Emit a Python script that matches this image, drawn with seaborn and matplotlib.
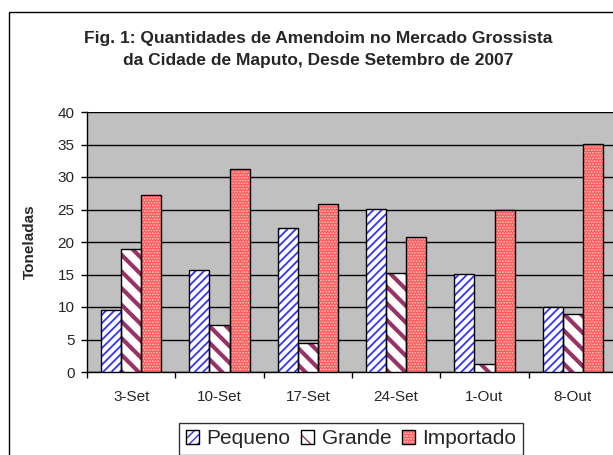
import pandas as pd
import matplotlib
matplotlib.use("Agg")
import matplotlib.pyplot as plt
import seaborn as sns
from matplotlib.patches import Patch, Rectangle
from matplotlib.legend_handler import HandlerTuple

# data
semanas = ["3-Set", "10-Set", "17-Set", "24-Set", "1-Out", "8-Out"]
pequeno = [9.6, 15.7, 22.2, 25.1, 15.1, 10.0]
grande = [18.9, 7.3, 4.4, 15.2, 1.2, 9.0]
importado = [27.2, 31.2, 25.8, 20.7, 25.0, 35.1]
tipos = ["Pequeno", "Grande", "Importado"]

df = pd.DataFrame({"semana": semanas, "Pequeno": pequeno,
                   "Grande": grande, "Importado": importado})
long_df = df.melt(id_vars="semana", var_name="tipo", value_name="toneladas")

sns.set_style("white")
plt.rcParams["font.family"] = ["Liberation Sans", "DejaVu Sans"]

# face colour, hatch pattern, hatch colour, hatch width for each series
estilos = {
    "Pequeno": ("white", "////", "#3333FF", 1.3),
    "Grande": ("white", "\\\\", "#993366", 3.0),
    "Importado": ("#FF5A5A", "......", "#FFC8C8", 0.8),
}

fig = plt.figure(figsize=(6.13, 4.55), dpi=100)
ax = fig.add_axes([87 / 613, 83 / 455, 530 / 613, 260 / 455])
ax.set_facecolor("#C0C0C0")

sns.barplot(data=long_df, x="semana", y="toneladas", hue="tipo",
            hue_order=tipos, order=semanas, width=0.68, gap=0,
            palette=["white"] * 3, legend=False, ax=ax, zorder=3)


def pinta(p, tipo):
    fc, hatch, hc, hw = estilos[tipo]
    p.set_facecolor(fc)
    p.set_hatch(hatch)
    p.set_edgecolor(hc)
    p.set_linewidth(0)
    try:
        p.set_hatch_linewidth(hw)
    except AttributeError:
        pass


for tipo, cont in zip(tipos, ax.containers):
    for p in cont:
        pinta(p, tipo)
        # black outline on top of the hatched bar
        ax.add_patch(Rectangle(p.get_xy(), p.get_width(), p.get_height(),
                               fill=False, ec="black", lw=1, zorder=4))

ax.set_ylim(0, 40)
ax.set_xlim(-0.5, 5.5)
ax.set_yticks(range(0, 41, 5))
ax.yaxis.grid(True, color="black", lw=1)
ax.set_axisbelow(True)
ax.set_xticks([i - 0.5 for i in range(7)], minor=True)
ax.tick_params(axis="x", which="major", length=0, pad=13, labelsize=11)
ax.tick_params(axis="x", which="minor", length=4, color="black", width=1,
               direction="out", bottom=True)
ax.tick_params(axis="y", length=4, color="black", width=1, direction="out",
               left=True, pad=5, labelsize=11)
for s in ["top", "right"]:
    ax.spines[s].set_visible(False)
for s in ["left", "bottom"]:
    ax.spines[s].set_color("black")
    ax.spines[s].set_linewidth(1)

ax.set_xlabel("")
ax.set_ylabel("Toneladas", fontsize=11, fontweight="bold")
ax.yaxis.set_label_coords((37 - 87) / 530, 0.5)

fig.text(318 / 613, 1 - 39 / 455, "Fig. 1: Quantidades de Amendoim no Mercado Grossista",
         ha="center", va="center", fontsize=12.5, fontweight="bold")
fig.text(318 / 613, 1 - 60 / 455, "da Cidade de Maputo, Desde Setembro de 2007",
         ha="center", va="center", fontsize=12.5, fontweight="bold")

# outer chart frame
fig.patches.append(Rectangle((9 / 613, -0.1), 1.1, 1.1 - 12 / 455, fill=False,
                             ec="black", lw=1, transform=fig.transFigure))

handles = []
for tipo in tipos:
    h = Patch()
    pinta(h, tipo)
    borda = Patch(fill=False, edgecolor="black", lw=1)
    handles.append((h, borda))
leg = fig.legend(handles, tipos, loc="upper center", ncol=3,
                 bbox_to_anchor=(351 / 613, 1 - 423 / 455), fontsize=15,
                 handler_map={tuple: HandlerTuple(ndivide=1, pad=0)},
                 frameon=True, fancybox=False, edgecolor="black",
                 handlelength=0.65, handleheight=0.65, handletextpad=0.35,
                 columnspacing=0.5, borderpad=0.3, borderaxespad=0)
leg.get_frame().set_linewidth(1)

fig.savefig("out.png", dpi=100)
